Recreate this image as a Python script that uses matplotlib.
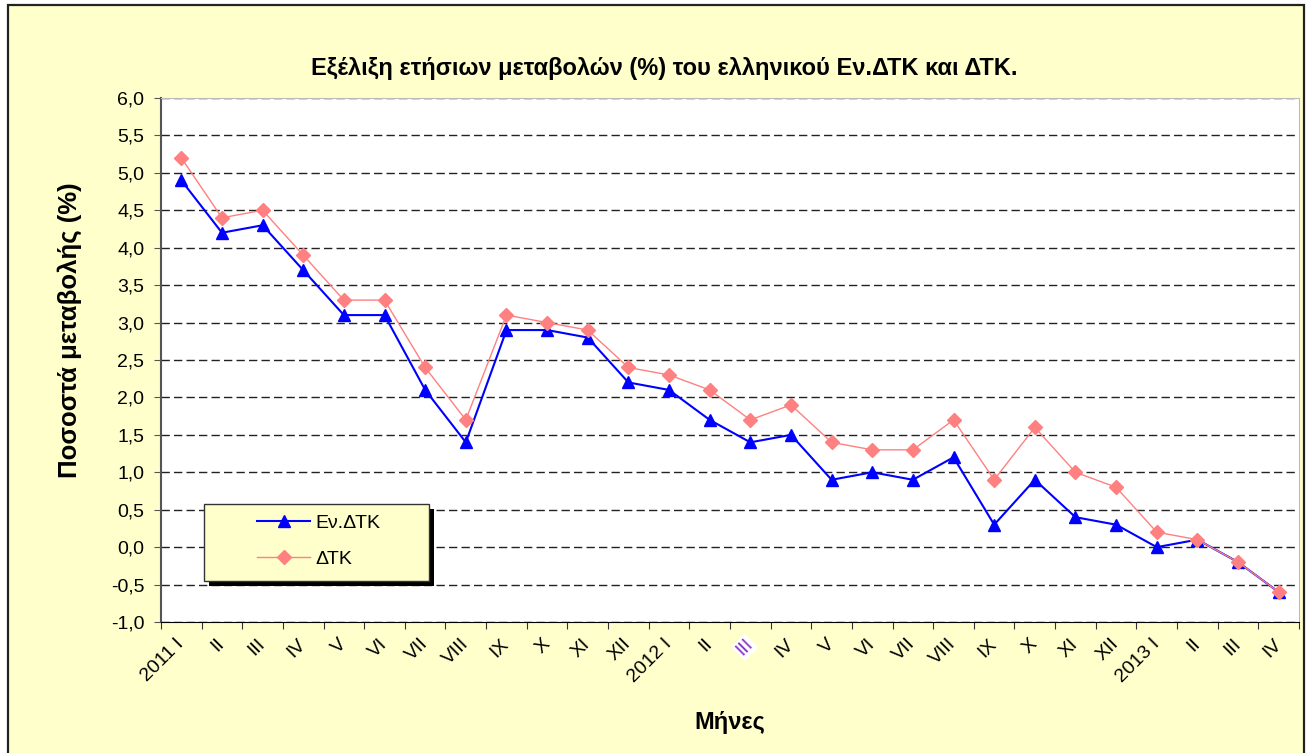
import matplotlib.pyplot as plt
import matplotlib.patches as patches
from matplotlib.ticker import FuncFormatter
import numpy as np

plt.rcParams['font.family'] = ['Liberation Sans', 'DejaVu Sans']

# δεδομένα
months = ['2011 I', 'II', 'III', 'IV', 'V', 'VI', 'VII', 'VIII', 'IX', 'X', 'XI', 'XII',
          '2012 I', 'II', 'III', 'IV', 'V', 'VI', 'VII', 'VIII', 'IX', 'X', 'XI', 'XII',
          '2013 I', 'II', 'III', 'IV']
ev_dtk = [4.9, 4.2, 4.3, 3.7, 3.1, 3.1, 2.1, 1.4, 2.9, 2.9, 2.8, 2.2,
          2.1, 1.7, 1.4, 1.5, 0.9, 1.0, 0.9, 1.2, 0.3, 0.9, 0.4, 0.3,
          0.0, 0.1, -0.2, -0.6]
dtk = [5.2, 4.4, 4.5, 3.9, 3.3, 3.3, 2.4, 1.7, 3.1, 3.0, 2.9, 2.4,
       2.3, 2.1, 1.7, 1.9, 1.4, 1.3, 1.3, 1.7, 0.9, 1.6, 1.0, 0.8,
       0.2, 0.1, -0.2, -0.6]

W, H = 1311, 753
fig = plt.figure(figsize=(W / 100, H / 100), dpi=100, facecolor='white')

def px(x0, y0):
    # pixel (από πάνω αριστερά) -> συντεταγμένες figure
    return x0 / W, 1 - y0 / H

# εξωτερικό πλαίσιο
border = patches.Rectangle((8 / W, -0.01), (1304 - 8) / W, (H - 5) / H + 0.01,
                           transform=fig.transFigure, facecolor='#FFFFCC',
                           edgecolor='#222222', linewidth=1.6, zorder=-5)
fig.patches.append(border)

ax = fig.add_axes([161 / W, 1 - 622 / H, (1299 - 161) / W, (622 - 98) / H])
ax.set_facecolor('white')

x = np.arange(len(months))
ax.plot(x, ev_dtk, color='#0000FF', linewidth=1.5, marker='^', markersize=9,
        label='Εν.ΔΤΚ', zorder=3)
ax.plot(x, dtk, color='#FF8080', linewidth=1.0, marker='D', markersize=7.5,
        label='ΔΤΚ', zorder=4)

ax.set_xlim(-0.5, len(months) - 0.5)
ax.set_ylim(-1.0, 6.0)
ax.set_yticks(np.arange(-1.0, 6.01, 0.5))
ax.yaxis.set_major_formatter(FuncFormatter(lambda v, p: f'{v:.1f}'.replace('.', ',')))
ax.tick_params(axis='y', labelsize=14, length=5, color='#555555', pad=7)

# γραμμές πλέγματος
ax.grid(axis='y', color='#222222', linestyle=(0, (6, 3)), linewidth=1.0)
ax.set_axisbelow(True)

ax.set_xticks(np.arange(-0.5, len(months), 1.0))
ax.set_xticklabels([])
ax.tick_params(axis='x', length=5, color='#333333')
ax.set_xticks(x, minor=True)
ax.set_xticklabels(months, minor=True, rotation=45, ha='right', va='center',
                   rotation_mode='anchor', fontsize=14)
ax.tick_params(axis='x', which='minor', length=0, pad=14)
hl = ax.get_xticklabels(minor=True)[14]
hl.set_color('#8833CC')
hl.set_bbox(dict(facecolor='white', edgecolor='none', pad=1))

ax.spines['left'].set_color('#555555')
ax.spines['left'].set_linewidth(1.5)
ax.spines['bottom'].set_color('black')
ax.spines['top'].set_color('#BBBBBB')
ax.spines['right'].set_color('#BBBBBB')

fig.text(*px(664, 68), 'Εξέλιξη ετήσιων μεταβολών (%) του ελληνικού Εν.ΔΤΚ και ΔΤΚ.',
         ha='center', va='center', fontsize=17, fontweight='bold')
fig.text(*px(70, 330), 'Ποσοστά μεταβολής (%)', rotation=90,
         ha='center', va='center', fontsize=18.5, fontweight='bold')
fig.text(*px(730, 722), 'Μήνες', ha='center', va='center',
         fontsize=17, fontweight='bold')

# πλαίσιο υπομνήματος με σκιά
lx0, ly0, lx1, ly1 = 204, 504, 429, 581
shadow = patches.Rectangle(px(lx0 + 5, ly1 + 5), (lx1 - lx0) / W, (ly1 - ly0) / H,
                           transform=fig.transFigure, facecolor='black',
                           edgecolor='none', zorder=5)
frame = patches.Rectangle(px(lx0, ly1), (lx1 - lx0) / W, (ly1 - ly0) / H,
                          transform=fig.transFigure, facecolor='#FFFFCC',
                          edgecolor='#333333', linewidth=1.0, zorder=6)
fig.add_artist(shadow)
fig.add_artist(frame)

leg = fig.legend(loc='center left', bbox_to_anchor=px(257, 541),
                 frameon=False, fontsize=14, handlelength=2.75,
                 borderpad=0, borderaxespad=0, labelspacing=0.95,
                 handletextpad=0.25)
leg.set_zorder(7)

fig.savefig('out.png', dpi=100, facecolor='white')
